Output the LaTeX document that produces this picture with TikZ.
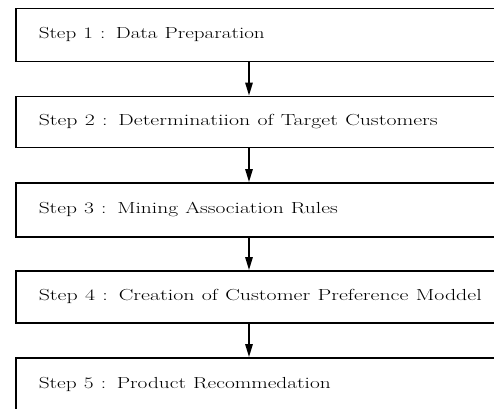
\documentclass[tikz,border=0pt]{standalone}
\usepackage{graphicx}
\usetikzlibrary{arrows.meta}
\tikzset{
  stepbox/.style={draw, line width=1.5pt, rectangle, anchor=north west,
    minimum width=485pt, text width=439pt, inner xsep=23pt, inner ysep=0pt,
    align=left, font=\fontsize{16}{18}\selectfont},
  flow/.style={line width=1.5pt, -{Triangle[length=13pt,width=7.5pt]}}
}
% set a label stretched to a given width, keeping its height
\newcommand{\steptext}[2]{\resizebox{#1pt}{\height}{#2}}
\begin{document}
\begin{tikzpicture}[x=1pt,y=-1pt]
  \useasboundingbox (0,0) rectangle (494,408);
  \clip (0,0) rectangle (494,408);
  \node[stepbox, minimum height=53pt] (s1) at (15,7.5) {\steptext{226}{Step 1 : Data Preparation}};
  \node[stepbox, minimum height=51pt] (s2) at (15,95.5) {\steptext{399}{Step 2 : Determinatiion of Target Customers}};
  \node[stepbox, minimum height=54pt] (s3) at (15,182) {\steptext{299}{Step 3 : Mining Association Rules}};
  \node[stepbox, minimum height=52pt] (s4) at (15,270) {\steptext{443}{Step 4 : Creation of Customer Preference Moddel}};
  \node[stepbox, minimum height=54pt] (s5) at (15,357) {\steptext{292}{Step 5 : Product Recommedation}};
  \coordinate (ax) at (249,0);
  \draw[flow] (s1.south -| ax) -- (s2.north -| ax);
  \draw[flow] (s2.south -| ax) -- (s3.north -| ax);
  \draw[flow] (s3.south -| ax) -- (s4.north -| ax);
  \draw[flow] (s4.south -| ax) -- (s5.north -| ax);
\end{tikzpicture}
\end{document}
